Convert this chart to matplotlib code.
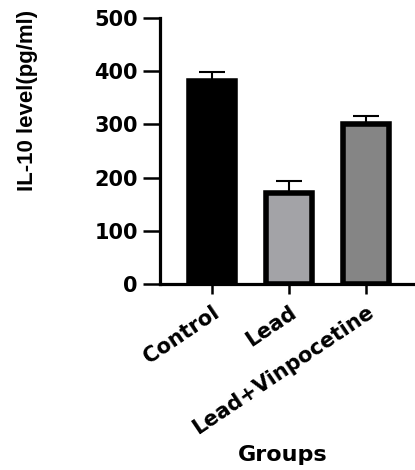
"""IL-10 level by treatment group (bar chart with upper SEM bars)."""
import matplotlib
matplotlib.use("Agg")
import matplotlib.pyplot as plt

groups = ["Control", "Lead", "Lead+Vinpocetine"]
il10_mean = [382, 172, 301]
il10_err = [16, 22, 15]
bar_colors = ["#000000", "#a3a3a7", "#858585"]

fig = plt.figure(figsize=(4.15, 4.70), dpi=100)
ax = fig.add_axes([0.3855, 0.3957, 0.6145, 0.566])

x = list(range(len(groups)))
ax.bar(x, il10_mean, width=0.6, color=bar_colors, edgecolor="black",
       linewidth=4, zorder=2)
ax.errorbar(x, il10_mean, yerr=[[0] * len(il10_err), il10_err], fmt="none",
            ecolor="black", elinewidth=1.5, capsize=9.4, capthick=1.5,
            zorder=1)

ax.set_xlim(-0.67, 2.63)
ax.set_ylim(0, 500)
ax.set_yticks([0, 100, 200, 300, 400, 500])
ax.set_xticks(x)
ax.set_xticklabels(groups, rotation=34, ha="right", rotation_mode="anchor",
                   fontsize=15, fontweight="bold")
for lbl in ax.get_yticklabels():
    lbl.set_fontsize(15)
    lbl.set_fontweight("bold")

for side in ("top", "right"):
    ax.spines[side].set_visible(False)
for side in ("left", "bottom"):
    ax.spines[side].set_linewidth(2.3)
ax.tick_params(axis="y", length=12, width=1.8, pad=4)
ax.tick_params(axis="x", length=7, width=1.8, pad=6)

fig.text(27 / 415, 1 - 100 / 470, "IL-10 level(pg/ml)", rotation=90,
         ha="center", va="center", fontsize=16, fontweight="bold",
         family="Liberation Sans")
fig.text(283 / 415, 1 - 455 / 470, "Groups", ha="center", va="center",
         fontsize=16, fontweight="bold")

fig.savefig("out.png", dpi=100)
